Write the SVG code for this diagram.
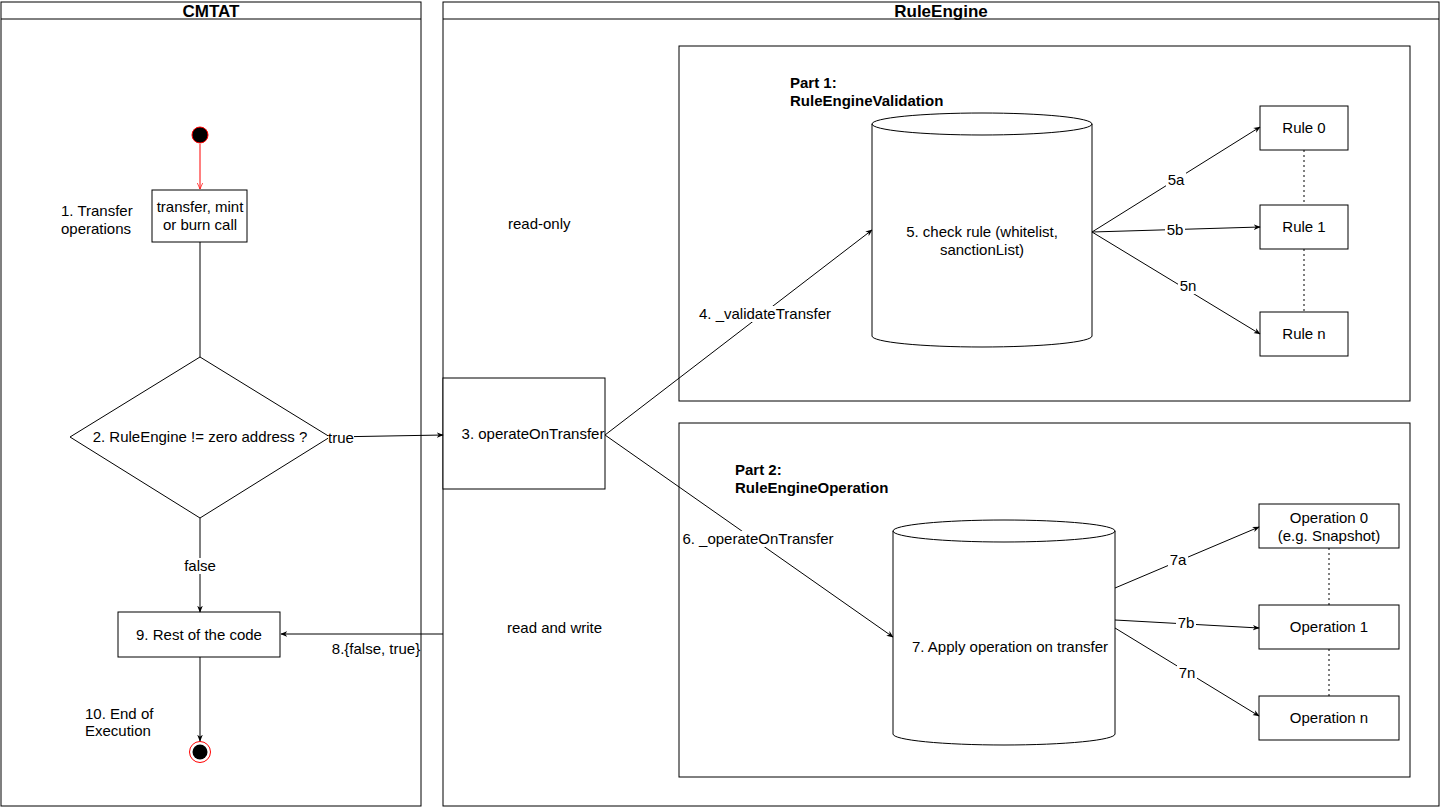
<svg xmlns="http://www.w3.org/2000/svg" width="1440" height="807" viewBox="0 0 1440 807">
<style>
text{font-family:"Liberation Sans",Arial,sans-serif;font-size:15px;fill:#000}
.c{text-anchor:middle}
.b{font-weight:bold}
.s{fill:#fff;stroke:#000;stroke-width:1}
.l{stroke:#000;stroke-width:1;fill:none}
.lb{fill:#fff;stroke:none}
</style>
<defs>
<marker id="a" viewBox="0 0 10 10" refX="9" refY="5" markerWidth="7" markerHeight="7" orient="auto"><path d="M0,1 L10,5 L0,9 L3,5 Z" fill="#000"/></marker>
<marker id="r" viewBox="0 0 10 10" refX="9" refY="5" markerWidth="7" markerHeight="7" orient="auto"><path d="M0,1 L9,5 L0,9" fill="none" stroke="#f00"/></marker>
</defs>
<rect width="1440" height="807" fill="#fff"/>
<g id="lane-cmtat"><rect class="s" x="1" y="2" width="420" height="804"/><line class="l" x1="1" y1="19" x2="421" y2="19"/><text class="c b" x="211" y="17" style="font-size:17px">CMTAT</text></g>
<g id="lane-re"><rect class="s" x="443" y="2" width="996" height="804"/><line class="l" x1="443" y1="19" x2="1439" y2="19"/><text class="c b" x="941" y="17" style="font-size:17px">RuleEngine</text></g>
<g id="part1"><rect class="s" x="679" y="46" width="731" height="355"/><text class="b" x="790" y="88">Part 1:</text><text class="b" x="790" y="106">RuleEngineValidation</text></g>
<g id="part2"><rect class="s" x="679" y="423" width="731" height="354"/><text class="b" x="735" y="475">Part 2:</text><text class="b" x="735" y="493">RuleEngineOperation</text></g>
<g id="texts"><text x="61" y="216">1. Transfer</text><text x="61" y="234">operations</text><text x="508" y="229">read-only</text><text x="507" y="633">read and write</text><text x="85" y="719">10. End of</text><text x="85" y="736">Execution</text></g>
<g id="start"><circle cx="200" cy="135" r="8" fill="#000" stroke="#f00"/></g>
<g id="n1"><rect class="s" x="152" y="190" width="95" height="52"/><text class="c" x="200" y="212">transfer, mint</text><text class="c" x="200" y="230">or burn call</text></g>
<g id="n2"><polygon class="s" points="200,357 330,437 200,518 70,437"/><text class="c" x="200" y="442">2. RuleEngine != zero address ?</text></g>
<g id="n3"><rect class="s" x="443" y="378" width="162" height="111"/><text class="c" x="533" y="439">3. operateOnTransfer</text></g>
<g id="n9"><rect class="s" x="118" y="612" width="162" height="45"/><text class="c" x="199" y="640">9. Rest of the code</text></g>
<g id="end"><circle cx="200" cy="752" r="10.5" fill="#fff" stroke="#f00"/><circle cx="200" cy="752" r="7.5" fill="#000"/></g>
<g id="db1"><path class="s" d="M872,124 L872,336 A110,11 0 0 0 1092,336 L1092,124 A110,11 0 0 0 872,124 A110,11 0 0 0 1092,124"/><text class="c" x="982" y="237">5. check rule (whitelist,</text><text class="c" x="982" y="255">sanctionList)</text></g>
<g id="db2"><path class="s" d="M893,531 L893,734 A111,11 0 0 0 1115,734 L1115,531 A111,11 0 0 0 893,531 A111,11 0 0 0 1115,531"/><text class="c" x="1010" y="652">7.  Apply operation on transfer</text></g>
<g id="rule0"><rect class="s" x="1260" y="106" width="88" height="44"/><text class="c" x="1304" y="133">Rule 0</text></g>
<g id="rule1"><rect class="s" x="1260" y="205" width="88" height="44"/><text class="c" x="1304" y="232">Rule 1</text></g>
<g id="rulen"><rect class="s" x="1260" y="312" width="88" height="44"/><text class="c" x="1304" y="339">Rule n</text></g>
<g id="op0"><rect class="s" x="1259" y="504" width="140" height="44"/><text class="c" x="1329" y="523">Operation 0</text><text class="c" x="1329" y="541">(e.g. Snapshot)</text></g>
<g id="op1"><rect class="s" x="1259" y="605" width="140" height="44"/><text class="c" x="1329" y="632">Operation 1</text></g>
<g id="opn"><rect class="s" x="1259" y="696" width="140" height="44"/><text class="c" x="1329" y="723">Operation n</text></g>
<g id="connectors">
<line x1="200" y1="144" x2="200" y2="189" stroke="#f00" marker-end="url(#r)"/>
<line class="l" x1="200" y1="242" x2="200" y2="357"/>
<line class="l" x1="330" y1="437" x2="443" y2="435" marker-end="url(#a)"/>
<line class="l" x1="200" y1="518" x2="200" y2="612" marker-end="url(#a)"/>
<line class="l" x1="200" y1="657" x2="200" y2="741" marker-end="url(#a)"/>
<line class="l" x1="443" y1="634" x2="281" y2="634" marker-end="url(#a)"/>
<line class="l" x1="605" y1="435" x2="872" y2="230" marker-end="url(#a)"/>
<line class="l" x1="605" y1="435" x2="893" y2="637" marker-end="url(#a)"/>
<line class="l" x1="1092" y1="232" x2="1260" y2="127" marker-end="url(#a)"/>
<line class="l" x1="1092" y1="232" x2="1260" y2="227" marker-end="url(#a)"/>
<line class="l" x1="1092" y1="232" x2="1260" y2="334" marker-end="url(#a)"/>
<line class="l" x1="1115" y1="588" x2="1259" y2="527" marker-end="url(#a)"/>
<line class="l" x1="1115" y1="620" x2="1259" y2="628" marker-end="url(#a)"/>
<line class="l" x1="1115" y1="628" x2="1259" y2="716" marker-end="url(#a)"/>
<line class="l" x1="1304" y1="150" x2="1304" y2="205" stroke-dasharray="2,3"/>
<line class="l" x1="1304" y1="249" x2="1304" y2="312" stroke-dasharray="2,3"/>
<line class="l" x1="1329" y1="548" x2="1329" y2="605" stroke-dasharray="2,3"/>
<line class="l" x1="1329" y1="649" x2="1329" y2="696" stroke-dasharray="2,3"/>
<rect class="lb" x="328" y="430" width="26" height="16"/><text class="c" x="341" y="443">true</text>
<rect class="lb" x="182" y="558" width="36" height="16"/><text class="c" x="200" y="571">false</text>
<text class="c" x="376" y="654">8.{false, true}</text>
<rect class="lb" x="698" y="306" width="134" height="16"/><text class="c" x="765" y="319">4. _validateTransfer</text>
<rect class="lb" x="682" y="531" width="152" height="16"/><text class="c" x="758" y="544">6. _operateOnTransfer</text>
<rect class="lb" x="1166" y="172" width="20" height="16"/><text class="c" x="1176" y="185">5a</text>
<rect class="lb" x="1165" y="222" width="20" height="16"/><text class="c" x="1175" y="235">5b</text>
<rect class="lb" x="1178" y="278" width="20" height="16"/><text class="c" x="1188" y="291">5n</text>
<rect class="lb" x="1168" y="552" width="20" height="16"/><text class="c" x="1178" y="565">7a</text>
<rect class="lb" x="1176" y="615" width="20" height="16"/><text class="c" x="1186" y="628">7b</text>
<rect class="lb" x="1177" y="665" width="20" height="16"/><text class="c" x="1187" y="678">7n</text>
</g>
</svg>
